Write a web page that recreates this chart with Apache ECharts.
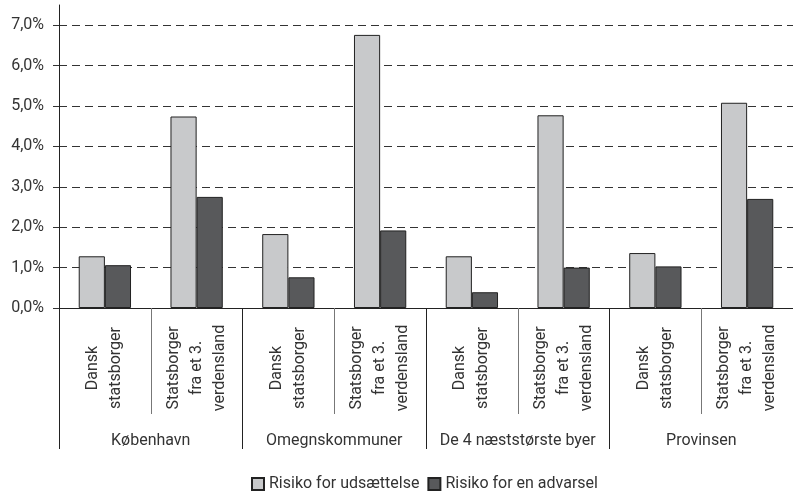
<!DOCTYPE html>
<html>
<head>
<meta charset="utf-8">
<script src="https://cdn.jsdelivr.net/npm/echarts@6/dist/echarts.min.js"></script>
<style>
  html, body { margin: 0; padding: 0; background: #fff; }
  #chart { width: 793px; height: 491px; }
</style>
</head>
<body>
<div id="chart"></div>
<script>
// data
const groups = ['København', 'Omegnskommuner', 'De 4 næststørste byer', 'Provinsen'];
const subCategories = [
  'Dansk\nstatsborger', 'Statsborger\nfra et 3.\nverdensland',
  'Dansk\nstatsborger', 'Statsborger\nfra et 3.\nverdensland',
  'Dansk\nstatsborger', 'Statsborger\nfra et 3.\nverdensland',
  'Dansk\nstatsborger', 'Statsborger\nfra et 3.\nverdensland'
];
const udsaettelse = [1.28, 4.74, 1.83, 6.76, 1.28, 4.77, 1.36, 5.08];
const advarsel = [1.06, 2.75, 0.76, 1.92, 0.39, 1.00, 1.03, 2.70];
const yTicks = [0, 1, 2, 3, 4, 5, 6, 7];

const chart = echarts.init(document.getElementById('chart'));
const font = 'Roboto, "Liberation Sans", sans-serif';
const textColor = '#333';

const option = {
  animation: false,
  textStyle: { fontFamily: font },
  grid: { left: 59, top: 5, width: 741, height: 303, containLabel: false },
  legend: {
    left: 251,
    top: 476,
    padding: 0,
    icon: 'rect',
    itemWidth: 12,
    itemHeight: 12,
    itemGap: 8,
    textStyle: { fontSize: 16, color: textColor, fontFamily: font },
    data: ['Risiko for udsættelse', 'Risiko for en advarsel']
  },
  xAxis: [
    {
      type: 'category',
      data: subCategories,
      position: 'bottom',
      axisLine: { lineStyle: { color: '#222', width: 1 } },
      axisTick: { show: true, interval: 0, length: 106, lineStyle: { color: '#777' } },
      axisLabel: {
        interval: 0,
        rotate: 90,
        align: 'center',
        verticalAlign: 'middle',
        margin: 60,
        fontSize: 16,
        lineHeight: 23,
        color: textColor
      }
    },
    {
      type: 'category',
      data: groups,
      position: 'bottom',
      offset: 0,
      axisLine: { show: false },
      axisTick: { show: true, interval: 0, length: 141, lineStyle: { color: '#222' } },
      axisLabel: { interval: 0, margin: 125, fontSize: 16, color: textColor }
    }
  ],
  yAxis: {
    type: 'value',
    min: 0,
    max: 7.5,
    interval: 0.5,
    axisLine: { show: true, lineStyle: { color: '#222', width: 1 } },
    axisTick: { show: true, length: 6, customValues: yTicks, lineStyle: { color: '#333' } },
    axisLabel: {
      customValues: yTicks,
      fontSize: 16,
      color: textColor,
      margin: 15,
      formatter: v => v.toFixed(1).replace('.', ',') + '%'
    },
    splitLine: { show: true, lineStyle: { color: '#333', type: [8, 5], width: 1 } }
  },
  series: [
    {
      name: 'Risiko for udsættelse',
      type: 'bar',
      xAxisIndex: 0,
      data: udsaettelse,
      barGap: '0%',
      barCategoryGap: '43%',
      itemStyle: { color: '#c8c9cb', borderColor: '#222', borderWidth: 1 }
    },
    {
      name: 'Risiko for en advarsel',
      type: 'bar',
      xAxisIndex: 0,
      data: advarsel,
      itemStyle: { color: '#58595b', borderColor: '#222', borderWidth: 1 }
    }
  ]
};

chart.setOption(option);
</script>
</body>
</html>
